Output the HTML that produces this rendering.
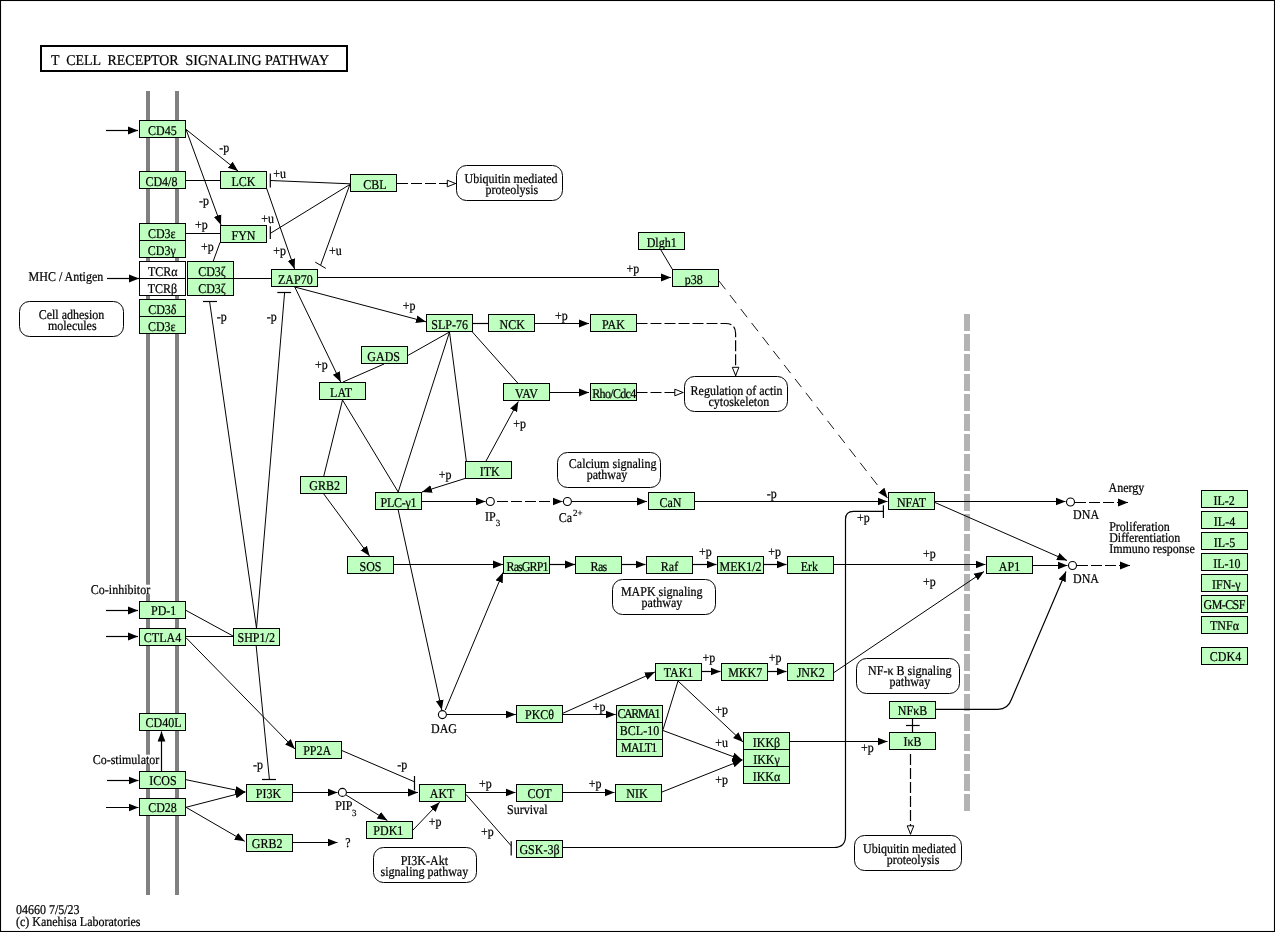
<!DOCTYPE html>
<html><head><meta charset="utf-8"><title>T cell receptor signaling pathway</title>
<style>html,body{margin:0;padding:0;background:#fff}svg{display:block;will-change:transform}text{font-family:"Liberation Serif",serif;font-size:12px;fill:#000;stroke:#000;stroke-width:0.2px;text-rendering:geometricPrecision}.l{stroke:#000;stroke-width:1.2;fill:none}.d{stroke:#000;stroke-width:1.2;fill:none;stroke-dasharray:11 3}.b{stroke:#000;stroke-width:1;}.r{stroke:#000;stroke-width:1;fill:#fff}</style></head><body>
<svg width="1275" height="932" viewBox="0 0 1275 932">
<defs>
<marker id="a" markerUnits="userSpaceOnUse" markerWidth="12" markerHeight="10" refX="10" refY="4.5" orient="auto"><path d="M0,0.6 L10,4.5 L0,8.4 Z" fill="#000"/></marker>
<marker id="o" markerUnits="userSpaceOnUse" markerWidth="12" markerHeight="10" refX="10" refY="4.5" orient="auto"><path d="M1.3,1.2 L9.5,4.5 L1.3,7.8 Z" fill="#fff" stroke="#000" stroke-width="1"/></marker>
</defs>
<rect x="0" y="0" width="1275" height="932" fill="#fff"/>
<rect x="0.5" y="0.5" width="1274" height="931" fill="none" stroke="#000" stroke-width="1.1"/>
<rect x="41" y="46" width="306" height="25" fill="#fff" stroke="#000" stroke-width="2"/>
<text transform="translate(51,64.8) scale(1,1.06)" style="font-size:14px" xml:space="preserve" textLength="278" lengthAdjust="spacingAndGlyphs">T  CELL  RECEPTOR  SIGNALING PATHWAY</text>
<rect x="146" y="91" width="4" height="804" fill="#808080"/>
<rect x="175" y="91" width="4" height="804" fill="#808080"/>
<line x1="967" y1="314" x2="967" y2="811" stroke="#b3b3b3" stroke-width="6" stroke-dasharray="17 3"/>
<path class="l" d="M186,180.5L220,180.5"/>
<path class="l" d="M186,233.5L220,233.5"/>
<path class="l" d="M220,242.5L213.2,261.3" style="stroke-width:1"/>
<path class="l" d="M234,278.5L271,278.5"/>
<path class="l" d="M473,323.5L488,323.5"/>
<path class="l" d="M660.6,249.5L672.2,269" style="stroke-width:1"/>
<path class="l" d="M408,355.4L449.5,332" style="stroke-width:1"/>
<path class="l" d="M384,364L343,382" style="stroke-width:1"/>
<path class="l" d="M342.5,400L323.8,476" style="stroke-width:1"/>
<path class="l" d="M342.5,400L398.2,492" style="stroke-width:1"/>
<path class="l" d="M449.5,332L398.2,492" style="stroke-width:1"/>
<path class="l" d="M449.5,332L466.3,461" style="stroke-width:1"/>
<path class="l" d="M472.4,332L518,383.3" style="stroke-width:1"/>
<path class="l" d="M186,610.4L233,636" style="stroke-width:1"/>
<path class="l" d="M186,636.5L233,636.5"/>
<path class="l" d="M663,729.7L678,681" style="stroke-width:1"/>
<path class="l" d="M912.5,719L912.5,732"/>
<path class="l" d="M906,725.5L919.7,725.5"/>
<path class="l" d="M350,183.8L270.3,180.5" style="stroke-width:1"/>
<path class="l" d="M270.3,173.6L270.3,187.5"/>
<path class="l" d="M350,184.4L270.3,233.4" style="stroke-width:1"/>
<path class="l" d="M270.3,226.2L270.3,239"/>
<path class="l" d="M349.7,185L320.7,265" style="stroke-width:1"/>
<path class="l" d="M315.2,262.1L325.8,268.4" style="stroke-width:1"/>
<path class="l" d="M256.5,628.2L209.6,301.5" style="stroke-width:1"/>
<path class="l" d="M203,301.5L217,301.5"/>
<path class="l" d="M256.5,628.2L284.6,292.5" style="stroke-width:1"/>
<path class="l" d="M277.3,292.5L291.1,292.5"/>
<path class="l" d="M256.2,646L269.4,779.2" style="stroke-width:1"/>
<path class="l" d="M262,779.5L276,779.5"/>
<path class="l" d="M342,750.6L414.5,781.8" style="stroke-width:1"/>
<path class="l" d="M414.5,776L414.5,790.4"/>
<path class="l" d="M466,794.4L511.2,845.8" style="stroke-width:1"/>
<path class="l" d="M511.2,841.2L511.2,855.4"/>
<path class="l" d="M883.4,505.3L883.4,518"/>
<path class="l" d="M106,130.5L138,130.5" marker-end="url(#a)"/>
<path class="l" d="M107,278.5L139,278.5" marker-end="url(#a)"/>
<path class="l" d="M106,610.5L138,610.5" marker-end="url(#a)"/>
<path class="l" d="M106,636.5L138,636.5" marker-end="url(#a)"/>
<path class="l" d="M107,780.5L138.5,780.5" marker-end="url(#a)"/>
<path class="l" d="M106,807.5L138.5,807.5" marker-end="url(#a)"/>
<path class="l" d="M186,129.4L238,171" style="stroke-width:1" marker-end="url(#a)"/>
<path class="l" d="M186,129.4L221,225" style="stroke-width:1" marker-end="url(#a)"/>
<path class="l" d="M266.7,188.5L294.6,269" style="stroke-width:1" marker-end="url(#a)"/>
<path class="l" d="M318,277.5L671,277.5" marker-end="url(#a)"/>
<path class="l" d="M294.8,287L426,321.8" style="stroke-width:1" marker-end="url(#a)"/>
<path class="l" d="M294.8,287L340.7,382" style="stroke-width:1" marker-end="url(#a)"/>
<path class="l" d="M535,323.5L589,323.5" marker-end="url(#a)"/>
<path class="l" d="M550,392.5L589,392.5" marker-end="url(#a)"/>
<path class="l" d="M486,461L518.3,401.5" style="stroke-width:1" marker-end="url(#a)"/>
<path class="l" d="M465,478.5L422,492" style="stroke-width:1" marker-end="url(#a)"/>
<path class="l" d="M422,501.5L485.5,501.5" marker-end="url(#a)"/>
<path class="l" d="M572,501.5L647,501.5" marker-end="url(#a)"/>
<path class="l" d="M695,501.5L887.5,501.5" marker-end="url(#a)"/>
<path class="l" d="M323.8,494L369.6,556" style="stroke-width:1" marker-end="url(#a)"/>
<path class="l" d="M394,564.5L503,564.5" marker-end="url(#a)"/>
<path class="l" d="M550,564.5L575,564.5" marker-end="url(#a)"/>
<path class="l" d="M622,564.5L645.5,564.5" marker-end="url(#a)"/>
<path class="l" d="M693,564.5L716.5,564.5" marker-end="url(#a)"/>
<path class="l" d="M764,564.5L786.5,564.5" marker-end="url(#a)"/>
<path class="l" d="M834,564.5L985.5,564.5" marker-end="url(#a)"/>
<path class="l" d="M398.2,510L441.8,710" style="stroke-width:1" marker-end="url(#a)"/>
<path class="l" d="M445.3,710L503,572.5" style="stroke-width:1" marker-end="url(#a)"/>
<path class="l" d="M447,714.5L515.8,714.5" marker-end="url(#a)"/>
<path class="l" d="M563,714.5L615.7,714.5" marker-end="url(#a)"/>
<path class="l" d="M563,713.2L654.9,672" style="stroke-width:1" marker-end="url(#a)"/>
<path class="l" d="M702,671.5L720.5,671.5" marker-end="url(#a)"/>
<path class="l" d="M768,671.5L786.5,671.5" marker-end="url(#a)"/>
<path class="l" d="M834,672.5L984,571.5" style="stroke-width:1" marker-end="url(#a)"/>
<path class="l" d="M678,681L743,742" style="stroke-width:1" marker-end="url(#a)"/>
<path class="l" d="M663,730.5L742.3,760" style="stroke-width:1" marker-end="url(#a)"/>
<path class="l" d="M662,792L742.3,760" style="stroke-width:1" marker-end="url(#a)"/>
<path class="l" d="M790,741.5L887.5,741.5" marker-end="url(#a)"/>
<path class="l" d="M935,501.5L1065.5,501.5" marker-end="url(#a)"/>
<path class="l" d="M935,502.5L1067,560.5" style="stroke-width:1" marker-end="url(#a)"/>
<path class="l" d="M1033,565.5L1067.5,565.5" marker-end="url(#a)"/>
<path class="l" d="M186,637.7L294.9,749" style="stroke-width:1" marker-end="url(#a)"/>
<path class="l" d="M161.5,771L161.5,731.5" marker-end="url(#a)"/>
<path class="l" d="M186,779.7L245.3,792" style="stroke-width:1" marker-end="url(#a)"/>
<path class="l" d="M186,807.3L245.3,792" style="stroke-width:1" marker-end="url(#a)"/>
<path class="l" d="M186,807.3L244.7,841.3" style="stroke-width:1" marker-end="url(#a)"/>
<path class="l" d="M293,792.5L337.5,792.5" marker-end="url(#a)"/>
<path class="l" d="M347,792.5L418,792.5" marker-end="url(#a)"/>
<path class="l" d="M346,795L387.4,820.5" style="stroke-width:1" marker-end="url(#a)"/>
<path class="l" d="M413,830L439.6,802.2" style="stroke-width:1" marker-end="url(#a)"/>
<path class="l" d="M466,792.5L515.5,792.5" marker-end="url(#a)"/>
<path class="l" d="M563,792.5L614.5,792.5" marker-end="url(#a)"/>
<path class="l" d="M293,842.5L337.5,842.5" marker-end="url(#a)"/>
<path class="d" d="M497,501.5L562.5,501.5" marker-end="url(#a)"/>
<path class="d" d="M1075,502.5L1128,502.5" marker-end="url(#a)"/>
<path class="d" d="M1077,565.5L1130,565.5" marker-end="url(#a)"/>
<path class="d" style="stroke-dasharray:10.5 7.2;stroke-width:0.9" d="M719,281L887.5,498" marker-end="url(#a)"/>
<path class="l" d="M936,709.3H998Q1008,709.3 1011.5,699.3L1066,571.5" marker-end="url(#a)"/>
<path class="l" d="M563,847.5H834Q845.5,847.5 845.5,836V519.4Q845.5,511.4 853.5,511.4H883.4"/>
<path class="d" d="M397,183.5H456" marker-end="url(#o)"/>
<path class="d" d="M636.5,323.5H725.6Q735.6,323.5 735.6,333.6V376" marker-end="url(#o)"/>
<path class="d" d="M636.5,392.5H683.5" marker-end="url(#o)"/>
<path class="d" d="M910.5,754V834.5" marker-end="url(#o)"/>
<circle cx="490.3" cy="501.5" r="4" fill="#fff" stroke="#000" stroke-width="1.1"/>
<circle cx="567.4" cy="501.5" r="4" fill="#fff" stroke="#000" stroke-width="1.1"/>
<circle cx="1070.5" cy="502" r="4" fill="#fff" stroke="#000" stroke-width="1.1"/>
<circle cx="1072.5" cy="565.5" r="4" fill="#fff" stroke="#000" stroke-width="1.1"/>
<circle cx="442.4" cy="714.6" r="4" fill="#fff" stroke="#000" stroke-width="1.1"/>
<circle cx="342.4" cy="792.4" r="4" fill="#fff" stroke="#000" stroke-width="1.1"/>
<rect class="b" x="139.5" y="120.5" width="46" height="17" fill="#bfffbf"/>
<text transform="translate(162.3,134.5) scale(1,1.12)" text-anchor="middle">CD45</text>
<rect class="b" x="139.5" y="171.5" width="46" height="17" fill="#bfffbf"/>
<text transform="translate(161.4,185.5) scale(1,1.12)" text-anchor="middle">CD4/8</text>
<rect class="b" x="220.5" y="171.5" width="46" height="17" fill="#bfffbf"/>
<text transform="translate(243.5,185.5) scale(1,1.12)" text-anchor="middle">LCK</text>
<rect class="b" x="350.5" y="174.5" width="46" height="17" fill="#bfffbf"/>
<text transform="translate(375.0,188.5) scale(1,1.12)" text-anchor="middle">CBL</text>
<rect class="b" x="139.5" y="223.5" width="46" height="17" fill="#bfffbf"/>
<text transform="translate(161.8,237.5) scale(1,1.12)" text-anchor="middle">CD3ε</text>
<rect class="b" x="139.5" y="240.5" width="46" height="17" fill="#bfffbf"/>
<text transform="translate(161.8,254.5) scale(1,1.12)" text-anchor="middle">CD3γ</text>
<rect class="b" x="220.5" y="225.5" width="46" height="17" fill="#bfffbf"/>
<text transform="translate(243.5,239.5) scale(1,1.12)" text-anchor="middle">FYN</text>
<rect class="b" x="139.5" y="261.5" width="46" height="17" fill="#fff"/>
<text transform="translate(162.8,275.5) scale(1,1.12)" text-anchor="middle">TCRα</text>
<rect class="b" x="139.5" y="278.5" width="46" height="17" fill="#fff"/>
<text transform="translate(162.5,292.5) scale(1,1.12)" text-anchor="middle">TCRβ</text>
<rect class="b" x="187.5" y="261.5" width="46" height="17" fill="#bfffbf"/>
<text transform="translate(212.0,275.5) scale(1,1.12)" text-anchor="middle">CD3ζ</text>
<rect class="b" x="187.5" y="278.5" width="46" height="17" fill="#bfffbf"/>
<text transform="translate(212.0,292.5) scale(1,1.12)" text-anchor="middle">CD3ζ</text>
<rect class="b" x="271.5" y="269.5" width="46" height="17" fill="#bfffbf"/>
<text transform="translate(295.3,283.5) scale(1,1.12)" text-anchor="middle">ZAP70</text>
<rect class="b" x="139.5" y="299.5" width="46" height="17" fill="#bfffbf"/>
<text transform="translate(162.3,313.5) scale(1,1.12)" text-anchor="middle">CD3δ</text>
<rect class="b" x="139.5" y="316.5" width="46" height="17" fill="#bfffbf"/>
<text transform="translate(161.8,330.5) scale(1,1.12)" text-anchor="middle">CD3ε</text>
<rect class="b" x="638.5" y="232.5" width="46" height="17" fill="#bfffbf"/>
<text transform="translate(661.7,246.5) scale(1,1.12)" text-anchor="middle">Dlgh1</text>
<rect class="b" x="672.5" y="269.5" width="46" height="17" fill="#bfffbf"/>
<text transform="translate(693.7,283.5) scale(1,1.12)" text-anchor="middle">p38</text>
<rect class="b" x="426.5" y="314.5" width="46" height="17" fill="#bfffbf"/>
<text transform="translate(449.7,328.5) scale(1,1.12)" text-anchor="middle">SLP-76</text>
<rect class="b" x="488.5" y="314.5" width="46" height="17" fill="#bfffbf"/>
<text transform="translate(512.2,328.5) scale(1,1.12)" text-anchor="middle">NCK</text>
<rect class="b" x="590.5" y="314.5" width="46" height="17" fill="#bfffbf"/>
<text transform="translate(613.5,328.5) scale(1,1.12)" text-anchor="middle">PAK</text>
<rect class="b" x="361.5" y="346.5" width="46" height="17" fill="#bfffbf"/>
<text transform="translate(383.7,360.5) scale(1,1.12)" text-anchor="middle">GADS</text>
<rect class="b" x="319.5" y="382.5" width="46" height="17" fill="#bfffbf"/>
<text transform="translate(341.1,396.5) scale(1,1.12)" text-anchor="middle">LAT</text>
<rect class="b" x="503.5" y="383.5" width="46" height="17" fill="#bfffbf"/>
<text transform="translate(526.5,397.5) scale(1,1.12)" text-anchor="middle">VAV</text>
<rect class="b" x="590.5" y="383.5" width="46" height="17" fill="#bfffbf"/>
<clipPath id="cr"><rect x="591" y="384" width="45" height="16"/></clipPath>
<g clip-path="url(#cr)"><text transform="translate(592.2,397.5) scale(1,1.12)" style="letter-spacing:-0.66px">Rho/Cdc42</text></g>
<rect class="b" x="465.5" y="461.5" width="46" height="17" fill="#bfffbf"/>
<text transform="translate(489.7,475.5) scale(1,1.12)" text-anchor="middle">ITK</text>
<rect class="b" x="300.5" y="476.5" width="46" height="17" fill="#bfffbf"/>
<text transform="translate(324.7,490.0) scale(1,1.12)" text-anchor="middle">GRB2</text>
<rect class="b" x="375.5" y="492.5" width="46" height="17" fill="#bfffbf"/>
<text transform="translate(398.5,506.5) scale(1,1.12)" text-anchor="middle" textLength="35.8" lengthAdjust="spacing">PLC-γ1</text>
<rect class="b" x="648.5" y="492.5" width="46" height="17" fill="#bfffbf"/>
<text transform="translate(670.4,506.5) scale(1,1.12)" text-anchor="middle">CaN</text>
<rect class="b" x="888.5" y="492.5" width="46" height="17" fill="#bfffbf"/>
<text transform="translate(911.5,506.5) scale(1,1.12)" text-anchor="middle">NFAT</text>
<rect class="b" x="347.5" y="556.5" width="46" height="17" fill="#bfffbf"/>
<text transform="translate(370.5,570.5) scale(1,1.12)" text-anchor="middle">SOS</text>
<rect class="b" x="503.5" y="556.5" width="46" height="17" fill="#bfffbf"/>
<text transform="translate(527.5,570.5) scale(1,1.12)" text-anchor="middle" textLength="41.8" lengthAdjust="spacing">RasGRP1</text>
<rect class="b" x="575.5" y="556.5" width="46" height="17" fill="#bfffbf"/>
<text transform="translate(598.9,570.5) scale(1,1.12)" text-anchor="middle" textLength="16.8" lengthAdjust="spacing">Ras</text>
<rect class="b" x="646.5" y="556.5" width="46" height="17" fill="#bfffbf"/>
<text transform="translate(669.5,570.5) scale(1,1.12)" text-anchor="middle">Raf</text>
<rect class="b" x="717.5" y="556.5" width="46" height="17" fill="#bfffbf"/>
<text transform="translate(740.5,570.5) scale(1,1.12)" text-anchor="middle">MEK1/2</text>
<rect class="b" x="787.5" y="556.5" width="46" height="17" fill="#bfffbf"/>
<text transform="translate(809.4,570.5) scale(1,1.12)" text-anchor="middle">Erk</text>
<rect class="b" x="986.5" y="556.5" width="46" height="17" fill="#bfffbf"/>
<text transform="translate(1009.5,570.5) scale(1,1.12)" text-anchor="middle">AP1</text>
<rect class="b" x="1201.5" y="490.5" width="46" height="17" fill="#bfffbf"/>
<text transform="translate(1224.1,504.5) scale(1,1.12)" text-anchor="middle">IL-2</text>
<rect class="b" x="1201.5" y="511.5" width="46" height="17" fill="#bfffbf"/>
<text transform="translate(1224.5,525.5) scale(1,1.12)" text-anchor="middle">IL-4</text>
<rect class="b" x="1201.5" y="532.5" width="46" height="17" fill="#bfffbf"/>
<text transform="translate(1224.5,546.5) scale(1,1.12)" text-anchor="middle">IL-5</text>
<rect class="b" x="1201.5" y="553.5" width="46" height="17" fill="#bfffbf"/>
<text transform="translate(1226.8,567.5) scale(1,1.12)" text-anchor="middle">IL-10</text>
<rect class="b" x="1201.5" y="574.5" width="46" height="17" fill="#bfffbf"/>
<text transform="translate(1226.3,588.5) scale(1,1.12)" text-anchor="middle">IFN-γ</text>
<rect class="b" x="1201.5" y="595.5" width="46" height="17" fill="#bfffbf"/>
<text transform="translate(1224.5,608.8) scale(1,1.12)" text-anchor="middle" textLength="41.8" lengthAdjust="spacing">GM-CSF</text>
<rect class="b" x="1201.5" y="616.5" width="46" height="17" fill="#bfffbf"/>
<text transform="translate(1224.5,629.8) scale(1,1.12)" text-anchor="middle">TNFα</text>
<rect class="b" x="1201.5" y="647.5" width="46" height="17" fill="#bfffbf"/>
<text transform="translate(1225.5,660.8) scale(1,1.12)" text-anchor="middle">CDK4</text>
<rect class="b" x="139.5" y="601.5" width="46" height="17" fill="#bfffbf"/>
<text transform="translate(163.7,614.8) scale(1,1.12)" text-anchor="middle">PD-1</text>
<rect class="b" x="139.5" y="628.5" width="46" height="17" fill="#bfffbf"/>
<text transform="translate(162.5,641.8) scale(1,1.12)" text-anchor="middle">CTLA4</text>
<rect class="b" x="233.5" y="628.5" width="46" height="17" fill="#bfffbf"/>
<text transform="translate(256.2,641.5) scale(1,1.12)" text-anchor="middle">SHP1/2</text>
<rect class="b" x="139.5" y="713.5" width="46" height="17" fill="#bfffbf"/>
<text transform="translate(163.6,726.8) scale(1,1.12)" text-anchor="middle">CD40L</text>
<rect class="b" x="139.5" y="771.5" width="46" height="17" fill="#bfffbf"/>
<text transform="translate(162.9,784.8) scale(1,1.12)" text-anchor="middle">ICOS</text>
<rect class="b" x="139.5" y="798.5" width="46" height="17" fill="#bfffbf"/>
<text transform="translate(162.5,811.8) scale(1,1.12)" text-anchor="middle">CD28</text>
<rect class="b" x="295.5" y="741.5" width="46" height="17" fill="#bfffbf"/>
<text transform="translate(317.2,754.8) scale(1,1.12)" text-anchor="middle">PP2A</text>
<rect class="b" x="246.5" y="784.5" width="46" height="17" fill="#bfffbf"/>
<text transform="translate(268.5,797.8) scale(1,1.12)" text-anchor="middle">PI3K</text>
<rect class="b" x="246.5" y="834.5" width="46" height="17" fill="#bfffbf"/>
<text transform="translate(267.2,847.8) scale(1,1.12)" text-anchor="middle">GRB2</text>
<rect class="b" x="366.5" y="821.5" width="46" height="17" fill="#bfffbf"/>
<text transform="translate(388.3,834.8) scale(1,1.12)" text-anchor="middle">PDK1</text>
<rect class="b" x="419.5" y="784.5" width="46" height="17" fill="#bfffbf"/>
<text transform="translate(442.1,797.8) scale(1,1.12)" text-anchor="middle">AKT</text>
<rect class="b" x="516.5" y="784.5" width="46" height="17" fill="#bfffbf"/>
<text transform="translate(539.5,797.8) scale(1,1.12)" text-anchor="middle">COT</text>
<rect class="b" x="615.5" y="784.5" width="46" height="17" fill="#bfffbf"/>
<text transform="translate(637.0,798.1) scale(1,1.12)" text-anchor="middle">NIK</text>
<rect class="b" x="516.5" y="840.5" width="46" height="17" fill="#bfffbf"/>
<text transform="translate(539.5,853.8) scale(1,1.12)" text-anchor="middle">GSK-3β</text>
<rect class="b" x="516.5" y="705.5" width="46" height="17" fill="#bfffbf"/>
<text transform="translate(539.5,718.8) scale(1,1.12)" text-anchor="middle">PKCθ</text>
<rect class="b" x="616.5" y="705.5" width="46" height="17" fill="#bfffbf"/>
<text transform="translate(639.0,718.3) scale(1,1.12)" text-anchor="middle" textLength="43.2" lengthAdjust="spacing">CARMA1</text>
<rect class="b" x="616.5" y="722.5" width="46" height="17" fill="#bfffbf"/>
<text transform="translate(639.5,735.3) scale(1,1.12)" text-anchor="middle">BCL-10</text>
<rect class="b" x="616.5" y="739.5" width="46" height="17" fill="#bfffbf"/>
<text transform="translate(639.2,752.3) scale(1,1.12)" text-anchor="middle" textLength="36.3" lengthAdjust="spacing">MALT1</text>
<rect class="b" x="655.5" y="663.5" width="46" height="17" fill="#bfffbf"/>
<text transform="translate(678.5,676.8) scale(1,1.12)" text-anchor="middle">TAK1</text>
<rect class="b" x="721.5" y="663.5" width="46" height="17" fill="#bfffbf"/>
<text transform="translate(745.2,676.8) scale(1,1.12)" text-anchor="middle">MKK7</text>
<rect class="b" x="787.5" y="663.5" width="46" height="17" fill="#bfffbf"/>
<text transform="translate(810.7,676.8) scale(1,1.12)" text-anchor="middle">JNK2</text>
<rect class="b" x="743.5" y="732.5" width="46" height="17" fill="#bfffbf"/>
<text transform="translate(766.5,746.5) scale(1,1.12)" text-anchor="middle">IKKβ</text>
<rect class="b" x="743.5" y="749.5" width="46" height="17" fill="#bfffbf"/>
<text transform="translate(766.5,763.5) scale(1,1.12)" text-anchor="middle">IKKγ</text>
<rect class="b" x="743.5" y="766.5" width="46" height="17" fill="#bfffbf"/>
<text transform="translate(766.5,780.5) scale(1,1.12)" text-anchor="middle">IKKα</text>
<rect class="b" x="889.5" y="701.5" width="46" height="17" fill="#bfffbf"/>
<text transform="translate(912.5,714.8) scale(1,1.12)" text-anchor="middle">NFκB</text>
<rect class="b" x="889.5" y="732.5" width="46" height="17" fill="#bfffbf"/>
<text transform="translate(912.5,745.8) scale(1,1.12)" text-anchor="middle">IκB</text>
<rect class="r" x="456.5" y="165.5" width="106" height="35" rx="10" ry="10"/>
<text transform="translate(464.6,182.8) scale(1,1.12)">Ubiquitin mediated</text>
<text transform="translate(485.6,193.6) scale(1,1.12)">proteolysis</text>
<rect class="r" x="19.5" y="301.5" width="104" height="35" rx="10" ry="10"/>
<text transform="translate(38.7,319.1) scale(1,1.12)">Cell adhesion</text>
<text transform="translate(47.9,329.9) scale(1,1.12)">molecules</text>
<rect class="r" x="684.5" y="376.5" width="103" height="35" rx="10" ry="10"/>
<text transform="translate(690.6,395) scale(1,1.12)">Regulation of actin</text>
<text transform="translate(708.5,406) scale(1,1.12)">cytoskeleton</text>
<rect class="r" x="557.5" y="452.5" width="103" height="35" rx="10" ry="10"/>
<text transform="translate(568.8,468.2) scale(1,1.12)">Calcium signaling</text>
<text transform="translate(586.7,479.4) scale(1,1.12)">pathway</text>
<rect class="r" x="612.5" y="579.5" width="103" height="35" rx="10" ry="10"/>
<text transform="translate(620.9,595.5) scale(1,1.12)">MAPK signaling</text>
<text transform="translate(641.6,606.5) scale(1,1.12)">pathway</text>
<rect class="r" x="856.5" y="658.5" width="103" height="35" rx="10" ry="10"/>
<text transform="translate(868.1,674.9) scale(1,1.12)">NF-κ B signaling</text>
<text transform="translate(889.5,685.7) scale(1,1.12)">pathway</text>
<rect class="r" x="854.5" y="835.5" width="107" height="35" rx="10" ry="10"/>
<text transform="translate(863,853.1) scale(1,1.12)">Ubiquitin mediated</text>
<text transform="translate(886.7,863.9) scale(1,1.12)">proteolysis</text>
<rect class="r" x="373.5" y="847.5" width="103" height="35" rx="10" ry="10"/>
<text transform="translate(400.7,864.8) scale(1,1.12)">PI3K-Akt</text>
<text transform="translate(380.5,876) scale(1,1.12)">signaling pathway</text>
<rect x="90" y="584.7" width="60.3" height="9.4" fill="#fff"/>
<rect x="92" y="754.7" width="67" height="9.4" fill="#fff"/>
<text transform="translate(28.6,280.8) scale(1,1.12)">MHC / Antigen</text>
<text transform="translate(90.8,593.5) scale(1,1.12)">Co-inhibitor</text>
<text transform="translate(92.7,763.5) scale(1,1.12)">Co-stimulator</text>
<text transform="translate(15.9,914.3) scale(1,1.12)">04660 7/5/23</text>
<text transform="translate(15.9,925.5) scale(1,1.12)">(c) Kanehisa Laboratories</text>
<text transform="translate(1108.6,492.2) scale(1,1.12)">Anergy</text>
<text transform="translate(1073.1,518.5) scale(1,1.12)">DNA</text>
<text transform="translate(1109.2,530.8) scale(1,1.12)">Proliferation</text>
<text transform="translate(1109.2,541.8) scale(1,1.12)">Differentiation</text>
<text transform="translate(1109.2,552.6) scale(1,1.12)">Immuno response</text>
<text transform="translate(1073,582.6) scale(1,1.12)">DNA</text>
<text transform="translate(431,732.5) scale(1,1.12)">DAG</text>
<text transform="translate(507,813.5) scale(1,1.12)">Survival</text>
<text transform="translate(345.2,847.4) scale(1,1.12)">?</text>
<text transform="translate(219.2,152.0) scale(1,1.12)">-p</text>
<text transform="translate(198.9,205.0) scale(1,1.12)">-p</text>
<text transform="translate(273.3,178.4) scale(1,1.12)">+u</text>
<text transform="translate(261.3,223.3) scale(1,1.12)">+u</text>
<text transform="translate(195,228.6) scale(1,1.12)">+p</text>
<text transform="translate(201.1,251.3) scale(1,1.12)">+p</text>
<text transform="translate(273.3,254.9) scale(1,1.12)">+p</text>
<text transform="translate(329.1,254.9) scale(1,1.12)">+u</text>
<text transform="translate(856.9,522.3) scale(1,1.12)">+p</text>
<text transform="translate(923,585.5) scale(1,1.12)">+p</text>
<text transform="translate(860.9,751.9) scale(1,1.12)">+p</text>
<text transform="translate(479.1,788.2) scale(1,1.12)">+p</text>
<text transform="translate(588.8,787.8) scale(1,1.12)">+p</text>
<text transform="translate(626.5,272.8) scale(1,1.12)">+p</text>
<text transform="translate(216.7,321.3) scale(1,1.12)">-p</text>
<text transform="translate(266.7,321.3) scale(1,1.12)">-p</text>
<text transform="translate(402.7,309.5) scale(1,1.12)">+p</text>
<text transform="translate(315,368.8) scale(1,1.12)">+p</text>
<text transform="translate(555,319.7) scale(1,1.12)">+p</text>
<text transform="translate(513.2,428.2) scale(1,1.12)">+p</text>
<text transform="translate(438.7,478.9) scale(1,1.12)">+p</text>
<text transform="translate(766.7,497.8) scale(1,1.12)">-p</text>
<text transform="translate(699,556.2) scale(1,1.12)">+p</text>
<text transform="translate(768.3,556.2) scale(1,1.12)">+p</text>
<text transform="translate(923,557.6) scale(1,1.12)">+p</text>
<text transform="translate(702.6,661.9) scale(1,1.12)">+p</text>
<text transform="translate(768.8,661.9) scale(1,1.12)">+p</text>
<text transform="translate(592.7,710.6) scale(1,1.12)">+p</text>
<text transform="translate(715.2,713.9) scale(1,1.12)">+p</text>
<text transform="translate(715.2,747.0) scale(1,1.12)">+u</text>
<text transform="translate(715.2,784.3) scale(1,1.12)">+p</text>
<text transform="translate(252.9,768.9) scale(1,1.12)">-p</text>
<text transform="translate(397.3,768.9) scale(1,1.12)">-p</text>
<text transform="translate(428.8,825.5) scale(1,1.12)">+p</text>
<text transform="translate(480.9,836.4) scale(1,1.12)">+p</text>
<text transform="translate(485.1,520.9) scale(1,1.12)">IP</text>
<text transform="translate(495.8,525.8) scale(1,1.05)" style="font-size:9px">3</text>
<text transform="translate(558.8,521.5) scale(1,1.12)">Ca</text>
<text transform="translate(572.9,515.9) scale(1,1.05)" style="font-size:9px">2+</text>
<text transform="translate(335.2,810.4) scale(1,1.12)">PIP</text>
<text transform="translate(352.0,815.6) scale(1,1.05)" style="font-size:9px">3</text>
</svg></body></html>
